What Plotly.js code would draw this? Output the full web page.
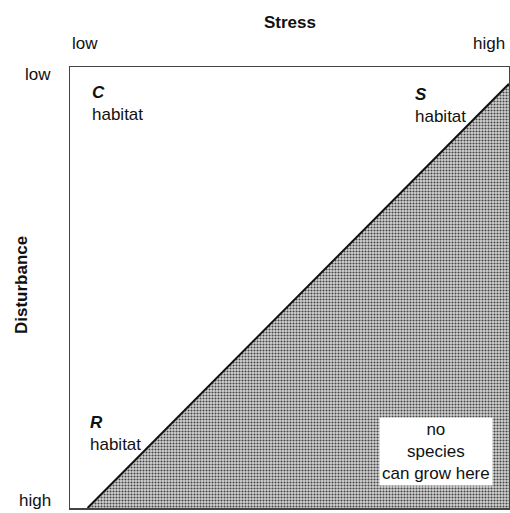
<!DOCTYPE html>
<html>
<head>
<meta charset="utf-8">
<script src="https://cdn.plot.ly/plotly-3.0.1.min.js"></script>
<style>html,body{margin:0;padding:0;background:#fff;}#chart{width:510px;height:513px;}</style>
</head>
<body>
<div id="chart"></div>
<script>
// Stress (x: 0 = low, 1 = high), Disturbance (y: 0 = high, 1 = low)
const boundaryStress = [0.04, 1.0];
const boundaryDisturbance = [0.0, 0.962];
const stressTickLabels = ["low", "high"];
const disturbanceTickLabels = ["low", "high"];
const habitatLetters = ["C", "S", "R"];
const habitatStress = [0.046, 0.781, 0.041];
const habitatDisturbance = [0.918, 0.912, 0.170];
const noGrowthText = ["no", "species", "can grow here"];

const F = "Liberation Sans, Arial, Helvetica, sans-serif";
const FS = 17;

const fillX = [boundaryStress[0], boundaryStress[1], boundaryStress[1], boundaryStress[0]];
const fillY = [boundaryDisturbance[0], boundaryDisturbance[1], boundaryDisturbance[0], boundaryDisturbance[0]];

const traces = [
  {
    x: fillX, y: fillY, type: "scatter", mode: "lines",
    fill: "toself", fillcolor: "#a0a0a0",
    fillpattern: {shape: ".", fgcolor: "#444", bgcolor: "#d4d4d4", size: 3, solidity: 0.4},
    line: {width: 0}, hoverinfo: "skip", showlegend: false
  },
  {
    x: boundaryStress, y: boundaryDisturbance, type: "scatter", mode: "lines",
    line: {color: "#111", width: 2}, hoverinfo: "skip", showlegend: false
  }
];

const ann = [];
ann.push({xref:"paper", yref:"paper", x:0, y:1.054, xanchor:"left", yanchor:"middle", text:stressTickLabels[0], showarrow:false, font:{family:F, size:FS, color:"#111"}});
ann.push({xref:"paper", yref:"paper", x:0.995, y:1.054, xanchor:"right", yanchor:"middle", text:stressTickLabels[1], showarrow:false, font:{family:F, size:FS, color:"#111"}});
ann.push({xref:"paper", yref:"paper", x:0.5, y:1.102, xanchor:"center", yanchor:"middle", text:"<b>Stress</b>", showarrow:false, font:{family:F, size:FS, color:"#111"}});
ann.push({xref:"paper", yref:"paper", x:-0.039, y:0.982, xanchor:"right", yanchor:"middle", text:disturbanceTickLabels[0], showarrow:false, font:{family:F, size:FS, color:"#111"}});
ann.push({xref:"paper", yref:"paper", x:-0.039, y:0.018, xanchor:"right", yanchor:"middle", text:disturbanceTickLabels[1], showarrow:false, font:{family:F, size:FS, color:"#111"}});
ann.push({xref:"paper", yref:"paper", x:-0.109, y:0.506, xanchor:"center", yanchor:"middle", textangle:-90, text:"<b>Disturbance</b>", showarrow:false, font:{family:F, size:FS, color:"#111"}});
for (let i = 0; i < habitatLetters.length; i++) {
  ann.push({xref:"x", yref:"y", x:habitatStress[i], y:habitatDisturbance[i], xanchor:"left", yanchor:"middle", align:"left",
    text:"<b><i>" + habitatLetters[i] + "</i></b><br>habitat", showarrow:false, font:{family:F, size:FS, color:"#111"}});
}
ann.push({xref:"paper", yref:"paper", x:0.834, y:0.129, xanchor:"center", yanchor:"middle", align:"center",
  text:noGrowthText.join("<br>"), showarrow:false, bgcolor:"#fff", borderpad:2,
  font:{family:F, size:FS, color:"#111"}});

const layout = {
  width: 510, height: 513,
  margin: {l: 70, r: 1, t: 67, b: 5, pad: 0},
  paper_bgcolor: "#fff", plot_bgcolor: "#fff",
  xaxis: {range: [0, 1], showgrid: false, zeroline: false, showticklabels: false, ticks: "",
    showline: true, mirror: true, linecolor: "#444", linewidth: 1.5, fixedrange: true},
  yaxis: {range: [0, 1], showgrid: false, zeroline: false, showticklabels: false, ticks: "",
    showline: true, mirror: true, linecolor: "#444", linewidth: 1.5, fixedrange: true},
  annotations: ann,
  showlegend: false
};

Plotly.newPlot("chart", traces, layout, {displayModeBar: false, staticPlot: true});
</script>
</body>
</html>
